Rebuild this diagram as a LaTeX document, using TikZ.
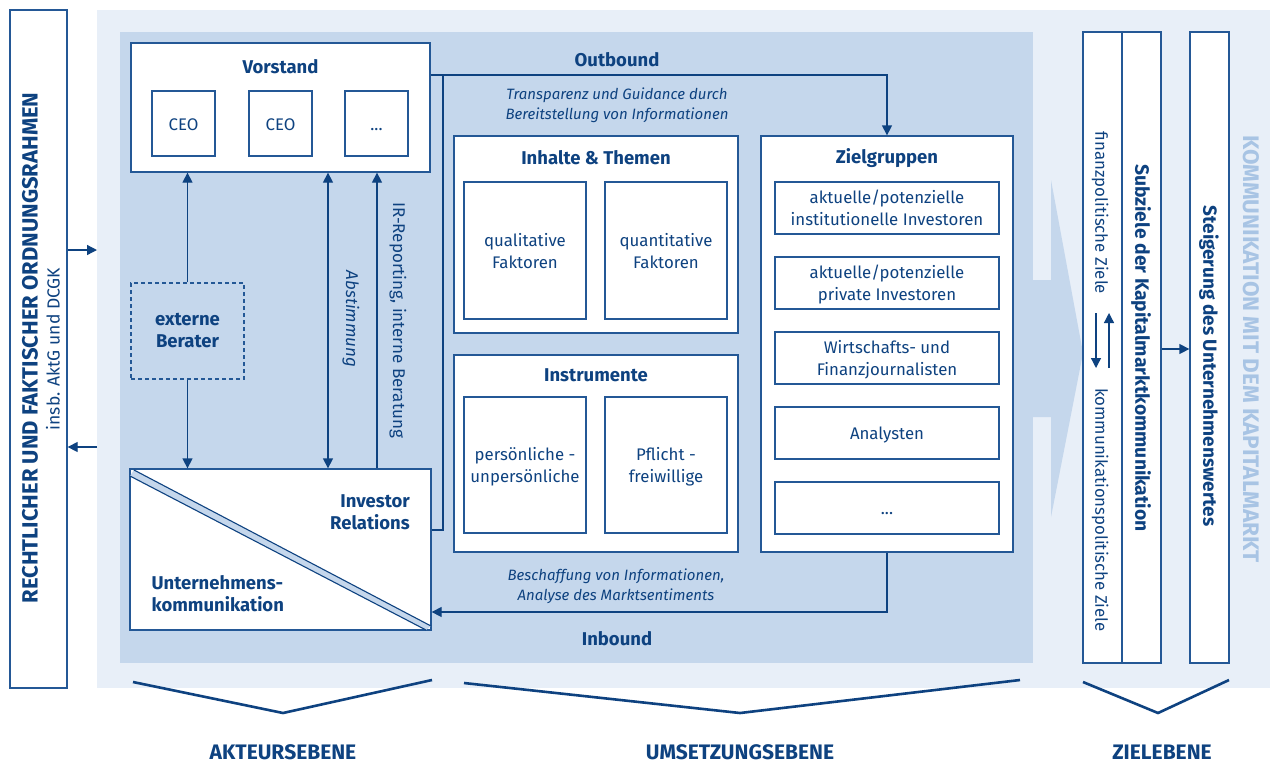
\documentclass[tikz,border=0pt]{standalone}
\usepackage{fontspec}
\setmainfont{Fira Sans}
\usetikzlibrary{arrows.meta}
\definecolor{navy}{RGB}{14,66,128}
\definecolor{boxline}{RGB}{36,88,150}
\definecolor{bglight}{RGB}{232,239,248}
\definecolor{bgmid}{RGB}{197,215,236}
\definecolor{kommtext}{RGB}{168,196,228}
\newcommand\lowtext[1]{\raisebox{-2.5pt}[\height][\depth]{\begin{tabular}{@{}c@{}}#1\end{tabular}}}
\tikzset{
  box/.style={draw=boxline, fill=white, line width=1.3pt, inner sep=0pt},
  txt/.style={text=navy, font=\fontsize{16.8}{22}\selectfont, align=center},
  hd/.style={text=navy, font=\bfseries\fontsize{18.5}{22}\selectfont, align=center},
  itx/.style={text=navy, font=\itshape\fontsize{15}{20}\selectfont, align=center},
  arr/.style={draw=navy, line width=1.3pt, -{Triangle[length=10pt,width=10pt]}},
  darr/.style={draw=navy, line width=1.3pt, {Triangle[length=10pt,width=10pt]}-{Triangle[length=10pt,width=10pt]}},
  sarr/.style={draw=navy, line width=1.3pt, -{Triangle[length=10pt,width=10pt]}},
  ln/.style={draw=navy, line width=1.3pt},
  vline/.style={draw=navy, line width=2.6pt},
  level/.style={text=navy, font=\bfseries\fontsize{21}{24}\selectfont},
}
\begin{document}
\begin{tikzpicture}[x=1pt,y=-1pt]
\useasboundingbox (0,0) rectangle (1273,764);
\fill[white] (0,0) rectangle (1273,764);
% backgrounds
\fill[bglight] (97,10) rectangle (1270,688);
\fill[bgmid] (120,32) rectangle (1033,663);
% big arrow
\fill[bgmid] (1033,280) -- (1051,280) -- (1051,180) -- (1083,353) -- (1051,517) -- (1051,417) -- (1033,417) -- cycle;

% left frame
\node[box, minimum width=57pt, minimum height=678pt] (frame) at (38.5,349) {};
\node[text=navy, font=\bfseries\fontsize{22}{24}\selectfont, rotate=90] (frameT) at (30,348) {RECHTLICHER UND FAKTISCHER ORDNUNGSRAHMEN};
\node[txt, font=\fontsize{17.5}{20}\selectfont, rotate=90] (frameS) at (53,349) {insb. AktG und DCGK};
\coordinate (fr1) at (97,250);
\coordinate (fr2) at (97,447);
\draw[arr] (frame.east |- fr1) -- (fr1);
\draw[arr] (fr2) -- (frame.east |- fr2);

% Vorstand
\node[box, minimum width=299pt, minimum height=129pt] (vorstand) at (280.5,107.5) {};
\node[hd] (vorstandT) at (280.5,67) {Vorstand};
\node[box, minimum width=63pt, minimum height=65pt, txt] (ceo1) at (183.5,123.5) {\lowtext{CEO}};
\node[box, minimum width=63pt, minimum height=65pt, txt] (ceo2) at (280.5,123.5) {\lowtext{CEO}};
\node[box, minimum width=63pt, minimum height=65pt, txt] (ceo3) at (376.5,123.5) {\lowtext{...}};

% externe Berater
\node[box, fill=none, dashed, dash pattern=on 4pt off 3pt, minimum width=113pt, minimum height=96pt, hd] (berater) at (187.5,331) {externe\\Berater};

% IR box
\node[box, minimum width=301pt, minimum height=161pt] (ir) at (280.5,549.5) {};
\fill[bgmid] (134,470) -- (431,626) -- (426,630) -- (130,476) -- cycle;
\draw[ln, line width=1.1pt] (134,470) -- (431,626);
\draw[ln, line width=1.1pt] (130,476) -- (426,630);
\node[hd, align=right] (irT) at (370,512) {Investor\\Relations};
\node[hd, align=left, anchor=west] (ukT) at (148,594) {Unternehmens-\\kommunikation};

% vertical connectors on the left
\coordinate (xA) at (328,0);
\coordinate (xB) at (377,0);
\draw[arr] (berater.north) -- (berater.north |- vorstand.south);
\draw[arr] (berater.south) -- (berater.south |- ir.north);
\draw[darr] (vorstand.south -| xA) -- (ir.north -| xA);
\draw[arr] (ir.north -| xB) -- (vorstand.south -| xB);
\node[itx, font=\itshape\fontsize{17}{20}\selectfont, rotate=-90] (abst) at (351,319) {Abstimmung};
\node[txt, font=\fontsize{17}{20}\selectfont, rotate=-90] (irrep) at (398,320) {IR-Reporting, interne Beratung};

% Inhalte & Themen
\node[box, minimum width=284pt, minimum height=197pt] (inhalte) at (596,234.5) {};
\node[hd] (inhalteT) at (596,158) {Inhalte \& Themen};
\node[box, minimum width=122pt, minimum height=137pt, txt] (qual) at (525,250.5) {\lowtext{qualitative\\Faktoren}};
\node[box, minimum width=122pt, minimum height=137pt, txt] (quant) at (666,250.5) {\lowtext{quantitative\\Faktoren}};

% Instrumente
\node[box, minimum width=284pt, minimum height=197pt] (instr) at (596,453.5) {};
\node[hd] (instrT) at (596,375) {Instrumente};
\node[box, minimum width=122pt, minimum height=136pt, txt] (pers) at (525,465) {\lowtext{persönliche -\\unpersönliche}};
\node[box, minimum width=122pt, minimum height=136pt, txt] (pfl) at (666,465) {\lowtext{Pflicht -\\freiwillige}};

% Zielgruppen
\node[box, minimum width=252pt, minimum height=416pt] (ziel) at (887,344) {};
\node[hd] (zielT) at (887,158) {Zielgruppen};
\node[box, minimum width=224pt, minimum height=52pt, txt] (z1) at (887,208) {\lowtext{aktuelle/potenzielle\\institutionelle Investoren}};
\node[box, minimum width=224pt, minimum height=52pt, txt] (z2) at (887,283) {\lowtext{aktuelle/potenzielle\\private Investoren}};
\node[box, minimum width=224pt, minimum height=52pt, txt] (z3) at (887,358) {\lowtext{Wirtschafts- und\\Finanzjournalisten}};
\node[box, minimum width=224pt, minimum height=52pt, txt] (z4) at (887,433) {\lowtext{Analysten}};
\node[box, minimum width=224pt, minimum height=52pt, txt] (z5) at (887,508) {\lowtext{...}};

% Outbound / Inbound
\coordinate (yOut) at (0,75);
\coordinate (yIn) at (0,612);
\coordinate (irj1) at (443,530);
\coordinate (irj2) at (443,75);
\draw[arr] (vorstand.east |- yOut) -- (ziel.north |- yOut) -- (ziel.north);
\draw[ln] (ir.east |- irj1) -- (irj1) -- (irj2);
\draw[arr] (ziel.south) -- (ziel.south |- yIn) -- (ir.east |- yIn);
\node[hd] (outT) at (617,60) {Outbound};
\node[itx] (outS) at (617,105.5) {Transparenz und Guidance durch\\Bereitstellung von Informationen};
\node[itx] (inS) at (616,586) {Beschaffung von Informationen,\\Analyse des Marktsentiments};
\node[hd] (inT) at (617,639) {Inbound};

% right columns
\node[box, minimum width=39pt, minimum height=631pt] (r1) at (1102.5,347.5) {};
\node[box, minimum width=39pt, minimum height=631pt] (r2) at (1141.5,347.5) {};
\node[box, minimum width=39pt, minimum height=631pt] (r3) at (1209.5,347.5) {};
\node[txt, rotate=-90] (r1a) at (1100,213) {finanzpolitische Ziele};
\node[txt, rotate=-90] (r1b) at (1100,510) {kommunikationspolitische Ziele};
\coordinate (ua1) at (1109,368);
\coordinate (ua2) at (1109,313);
\coordinate (da1) at (1096,313);
\coordinate (da2) at (1096,368);
\draw[sarr] (ua1) -- (ua2);
\draw[sarr] (da1) -- (da2);
\node[hd, font=\bfseries\fontsize{19.3}{22}\selectfont, rotate=-90] (r2t) at (1141,348) {Subziele der Kapitalmarktkommunikation};
\node[hd, font=\bfseries\fontsize{19}{22}\selectfont, rotate=-90] (r3t) at (1209,366) {Steigerung des Unternehmenswertes};
\coordinate (yR) at (0,349);
\draw[arr] (r2.east |- yR) -- (r3.west |- yR);
\node[text=kommtext, font=\bfseries\fontsize{22.5}{24}\selectfont, rotate=-90] (komm) at (1251,349) {KOMMUNIKATION MIT DEM KAPITALMARKT};

% levels
\coordinate (v1a) at (133,682); \coordinate (v1b) at (283,713); \coordinate (v1c) at (432,680);
\coordinate (v2a) at (464,683); \coordinate (v2b) at (740,713); \coordinate (v2c) at (1020,680);
\coordinate (v3a) at (1083,682); \coordinate (v3b) at (1158,713); \coordinate (v3c) at (1229,680);
\draw[vline] (v1a) -- (v1b) -- (v1c);
\draw[vline] (v2a) -- (v2b) -- (v2c);
\draw[vline] (v3a) -- (v3b) -- (v3c);
\node[level] (l1) at (283,752) {AKTEURSEBENE};
\node[level] (l2) at (740,752) {UMSETZUNGSEBENE};
\node[level] (l3) at (1162,752) {ZIELEBENE};
\end{tikzpicture}
\end{document}
